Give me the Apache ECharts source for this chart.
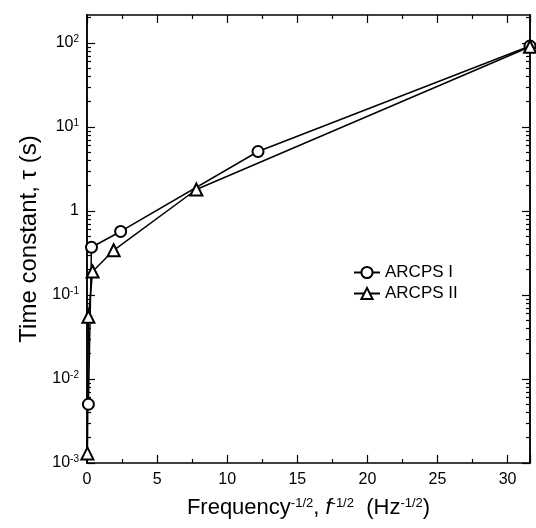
<!DOCTYPE html>
<html style="height: 100%">
<head>
<meta charset="UTF-8">
<script type="text/javascript" src="https://cdn.jsdelivr.net/npm/echarts@6/dist/echarts.min.js"></script>
<title>Time constant</title>
<style>
  html, body { margin: 0; padding: 0; background: #fff; }
  #main { width: 536px; height: 528px; }
</style>
</head>
<body>
<div id="main"></div>
<script type="text/javascript">
// data
var seriesNames = ['ARCPS I', 'ARCPS II'];
var xArcps1 = [0.1, 0.32, 2.4, 12.2, 31.6];
var yArcps1 = [0.005, 0.37, 0.57, 5.1, 92];
var xArcps2 = [0.03, 0.1, 0.4, 1.9, 7.8, 31.6];
var yArcps2 = [0.0013, 0.055, 0.19, 0.34, 1.8, 90];

var yMajorTicks = [0.001, 0.01, 0.1, 1, 10, 100];

var xMin = 0, xMax = 31.6, xStep = 5;
var yMin = 0.001, yMax = 215;

var font = 'Liberation Sans, Arial, sans-serif';

// minor log ticks 2..9 in every decade
var yMinorTicks = [];
for (var i = 0; i < yMajorTicks.length; i++) {
    for (var k = 2; k <= 9; k++) {
        var v = +(yMajorTicks[i] * k).toPrecision(3);
        if (v <= yMax) yMinorTicks.push(v);
    }
}

function pairs(xs, ys) {
    var out = [];
    for (var i = 0; i < xs.length; i++) out.push([xs[i], ys[i]]);
    return out;
}

var lineAxis = { show: true, onZero: false, lineStyle: { color: '#000', width: 1.5 } };

function xAx(pos, withLabels) {
    return {
        type: 'value', position: pos, min: xMin, max: xMax, interval: xStep,
        axisLine: lineAxis,
        axisTick: { show: true, inside: true, length: 8, lineStyle: { color: '#000', width: 1.2 } },
        minorTick: { show: true, splitNumber: 2, length: 4, lineStyle: { color: '#000', width: 1.2 } },
        axisLabel: withLabels ? {
            show: true, showMaxLabel: false, margin: 9, color: '#000',
            fontFamily: font, fontSize: 16
        } : { show: false },
        splitLine: { show: false }
    };
}

function yAx(pos, ticks, len, withLabels) {
    return {
        type: 'log', position: pos, min: yMin, max: yMax,
        axisLine: lineAxis,
        axisTick: { show: true, inside: true, length: len, customValues: ticks, lineStyle: { color: '#000', width: 1.2 } },
        axisLabel: withLabels ? {
            show: true, customValues: ticks, margin: 8, color: '#000',
            fontFamily: font, fontSize: 16,
            formatter: function (val) {
                var e = Math.round(Math.log10(val));
                if (e === 0) return '1';
                return '10{s|' + e + '}';
            },
            rich: {
                s: { fontSize: 10, fontFamily: font, color: '#000', verticalAlign: 'top', padding: [0, 0, 7, 0] }
            }
        } : { show: false },
        splitLine: { show: false }
    };
}

var xAxes = [xAx('bottom', true), xAx('top', false)];
xAxes[0].name = 'Frequency{s|-1/2}, {i|f}{s|-1/2}  (Hz{s|-1/2})';
xAxes[0].nameLocation = 'middle';
xAxes[0].nameGap = 34;
xAxes[0].nameTextStyle = {
    fontFamily: font, fontSize: 22, color: '#000',
    rich: {
        s: { fontSize: 13, fontFamily: font, color: '#000', verticalAlign: 'top', padding: [0, 0, 9, 0] },
        i: { fontSize: 22, fontFamily: font, color: '#000', fontStyle: 'italic' }
    }
};

var yAxes = [
    yAx('left', yMajorTicks, 8, true),
    yAx('left', yMinorTicks, 4, false),
    yAx('right', yMajorTicks, 8, false),
    yAx('right', yMinorTicks, 4, false)
];
yAxes[0].name = 'Time constant, \u03c4 (s)';
yAxes[0].nameLocation = 'middle';
yAxes[0].nameGap = 46;
yAxes[0].nameTextStyle = { fontFamily: font, fontSize: 24, color: '#000' };

var myChart = echarts.init(document.getElementById('main'), null, { renderer: 'canvas' });
var option = {
    backgroundColor: '#fff',
    animation: false,
    grid: { left: 87, right: 6, top: 15, bottom: 65, containLabel: false, outerBoundsMode: 'none' },
    legend: {
        orient: 'vertical', left: 348, top: 259,
        itemWidth: 26, itemHeight: 14, itemGap: 4,
        textStyle: { fontFamily: font, fontSize: 17, color: '#000' },
        data: seriesNames
    },
    xAxis: xAxes,
    yAxis: yAxes,
    series: [
        {
            name: seriesNames[0], type: 'line', xAxisIndex: 0, yAxisIndex: 0,
            data: pairs(xArcps1, yArcps1),
            symbol: 'emptyCircle', symbolSize: 11, clip: false,
            itemStyle: { color: '#000', borderWidth: 1.3 },
            lineStyle: { color: '#000', width: 1.5 }
        },
        {
            name: seriesNames[1], type: 'line', xAxisIndex: 0, yAxisIndex: 0,
            data: pairs(xArcps2, yArcps2),
            symbol: 'emptyTriangle', symbolSize: 12, clip: false,
            itemStyle: { color: '#000', borderWidth: 1.3 },
            lineStyle: { color: '#000', width: 1.5 }
        }
    ]
};
myChart.setOption(option, true);
</script>
</body>
</html>
